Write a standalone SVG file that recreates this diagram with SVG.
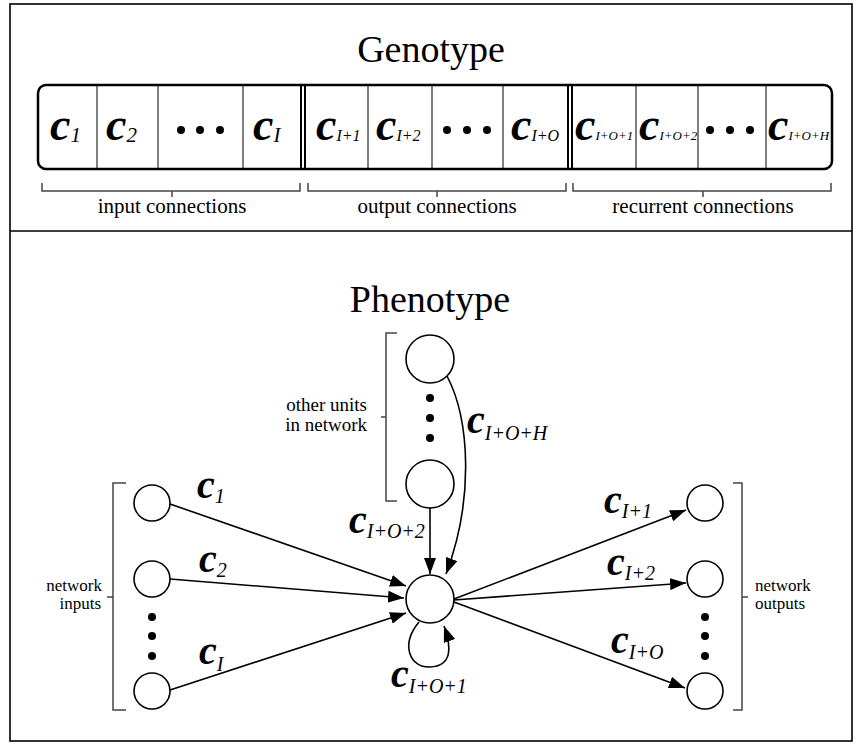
<svg xmlns="http://www.w3.org/2000/svg" width="862" height="744" viewBox="0 0 862 744">
<style>
text{font-family:"Liberation Serif","Times New Roman","DejaVu Serif",serif;fill:#000}
.title{font-size:38px;text-anchor:middle}
.lbl{font-size:21px;text-anchor:middle}
.small{font-size:19px}
.tiny{font-size:17px}
.cg{font-size:46px;font-style:italic;font-weight:bold}
.cp{font-size:40px;font-style:italic;font-weight:bold}
.s1{font-size:21px;font-style:italic}
.s2{font-size:16px;font-style:italic}
.s3{font-size:13px;font-style:italic}
.sp{font-size:20px;font-style:italic}
.node{fill:#fff;stroke:#000;stroke-width:1.6}
.br{fill:none;stroke:#444;stroke-width:1.5}
.cell{stroke:#000;stroke-width:1}
.dbl{stroke:#000;stroke-width:2}
.edge{fill:none;stroke:#000;stroke-width:1.6;marker-end:url(#ah)}
</style>
<defs>
<marker id="ah" viewBox="0 0 16 12" refX="16" refY="6" markerWidth="16" markerHeight="12" orient="auto" markerUnits="userSpaceOnUse"><path d="M0,0 L16,6 L0,12 z" fill="#000"/></marker>
</defs>
<rect x="0" y="0" width="862" height="744" fill="#fff"/>
<g id="frame">
<rect x="10" y="4" width="842" height="737" fill="none" stroke="#000" stroke-width="1.6"/>
<line x1="10" y1="231" x2="852" y2="231" stroke="#000" stroke-width="1.6"/>
</g>
<g id="genotype">
<text class="title" x="431" y="62">Genotype</text>
<rect x="38" y="85" width="794" height="84" rx="8" fill="none" stroke="#000" stroke-width="2.5"/>
<line class="cell" x1="97" y1="86" x2="97" y2="168"/>
<line class="cell" x1="158" y1="86" x2="158" y2="168"/>
<line class="cell" x1="243" y1="86" x2="243" y2="168"/>
<line class="dbl" x1="301" y1="86" x2="301" y2="168"/>
<line class="dbl" x1="305" y1="86" x2="305" y2="168"/>
<line class="cell" x1="368" y1="86" x2="368" y2="168"/>
<line class="cell" x1="432" y1="86" x2="432" y2="168"/>
<line class="cell" x1="503" y1="86" x2="503" y2="168"/>
<line class="dbl" x1="568" y1="86" x2="568" y2="168"/>
<line class="dbl" x1="572" y1="86" x2="572" y2="168"/>
<line class="cell" x1="636" y1="86" x2="636" y2="168"/>
<line class="cell" x1="698" y1="86" x2="698" y2="168"/>
<line class="cell" x1="766" y1="86" x2="766" y2="168"/>
<text x="50" y="140"><tspan class="cg">c</tspan><tspan class="s1" dy="2">1</tspan></text>
<text x="106" y="140"><tspan class="cg">c</tspan><tspan class="s1" dy="2">2</tspan></text>
<g fill="#000"><circle cx="181" cy="130" r="4"/><circle cx="200" cy="130" r="4"/><circle cx="220" cy="130" r="4"/></g>
<text x="253" y="140"><tspan class="cg">c</tspan><tspan class="s1" dy="2">I</tspan></text>
<text x="316" y="140"><tspan class="cg">c</tspan><tspan class="s2" dy="1">I+1</tspan></text>
<text x="376" y="140"><tspan class="cg">c</tspan><tspan class="s2" dy="1">I+2</tspan></text>
<g fill="#000"><circle cx="447" cy="130" r="4"/><circle cx="467" cy="130" r="4"/><circle cx="487" cy="130" r="4"/></g>
<text x="511" y="140"><tspan class="cg">c</tspan><tspan class="s2" dy="1">I+O</tspan></text>
<text x="575" y="140"><tspan class="cg">c</tspan><tspan class="s3" dy="0">I+O+1</tspan></text>
<text x="639" y="140"><tspan class="cg">c</tspan><tspan class="s3" dy="0">I+O+2</tspan></text>
<g fill="#000"><circle cx="710" cy="130" r="4"/><circle cx="730" cy="130" r="4"/><circle cx="750" cy="130" r="4"/></g>
<text x="768" y="140"><tspan class="cg">c</tspan><tspan class="s3" dy="0">I+O+H</tspan></text>
<path class="br" d="M42,183 V191 H300 V183 M172,191 V197"/>
<path class="br" d="M308,183 V191 H566 V183 M437,191 V197"/>
<path class="br" d="M573,183 V191 H831 V183 M703,191 V197"/>
<text class="lbl" x="172" y="213">input connections</text>
<text class="lbl" x="437" y="213">output connections</text>
<text class="lbl" x="703" y="213">recurrent connections</text>
</g>
<g id="phenotype">
<text class="title" x="430" y="312">Phenotype</text>
</g>
<g id="connectors">
<line class="edge" x1="170" y1="504" x2="406" y2="586"/>
<line class="edge" x1="170" y1="579" x2="404" y2="598"/>
<line class="edge" x1="170" y1="690" x2="406" y2="613"/>
<line class="edge" x1="454" y1="599" x2="686" y2="510"/>
<line class="edge" x1="454" y1="600" x2="686" y2="583"/>
<line class="edge" x1="454" y1="602" x2="685" y2="688"/>
<line class="edge" x1="430" y1="508" x2="430" y2="574"/>
<path class="edge" d="M447,376 C470,420 474,500 446,574"/>
<path class="edge" d="M419,622 C400,645 410,668 430,667 C452,666 452,648 444,626"/>
</g>
<g id="unit-other-top"><circle class="node" cx="430" cy="359" r="24"/></g>
<g id="unit-other-dots" fill="#000"><circle cx="430" cy="398" r="4"/><circle cx="430" cy="418" r="4"/><circle cx="430" cy="438" r="4"/></g>
<g id="unit-other-bottom"><circle class="node" cx="430" cy="484" r="24"/></g>
<g id="bracket-other">
<path class="br" d="M397,333 H386 V501 H397 M386,417 H381"/>
<text class="small" x="367" y="411" text-anchor="end">other units</text>
<text class="small" x="367" y="431" text-anchor="end">in network</text>
</g>
<g id="unit-center"><circle class="node" cx="430" cy="599" r="24"/></g>
<g id="input-1"><circle class="node" cx="152" cy="503" r="18"/></g>
<g id="input-2"><circle class="node" cx="152" cy="579" r="18"/></g>
<g id="input-dots" fill="#000"><circle cx="152" cy="617" r="4"/><circle cx="152" cy="636" r="4"/><circle cx="152" cy="656" r="4"/></g>
<g id="input-I"><circle class="node" cx="152" cy="691" r="18"/></g>
<g id="bracket-inputs">
<path class="br" d="M126,483 H113 V710 H126 M113,597 H107"/>
<text class="tiny" x="102" y="591" text-anchor="end">network</text>
<text class="tiny" x="101" y="609" text-anchor="end">inputs</text>
</g>
<g id="output-1"><circle class="node" cx="705" cy="503" r="18"/></g>
<g id="output-2"><circle class="node" cx="705" cy="579" r="18"/></g>
<g id="output-dots" fill="#000"><circle cx="705" cy="617" r="4"/><circle cx="705" cy="636" r="4"/><circle cx="705" cy="656" r="4"/></g>
<g id="output-O"><circle class="node" cx="705" cy="691" r="18"/></g>
<g id="bracket-outputs">
<path class="br" d="M733,483 H742 V710 H733 M742,597 H748"/>
<text class="tiny" x="755" y="591">network</text>
<text class="tiny" x="755" y="609">outputs</text>
</g>
<g id="labels">
<text x="197" y="498"><tspan class="cp">c</tspan><tspan class="sp" dy="5">1</tspan></text>
<text x="199" y="572"><tspan class="cp">c</tspan><tspan class="sp" dy="5">2</tspan></text>
<text x="199" y="664"><tspan class="cp">c</tspan><tspan class="sp" dy="7">I</tspan></text>
<text x="604" y="513"><tspan class="cp">c</tspan><tspan class="sp" dy="5">I+1</tspan></text>
<text x="607" y="575"><tspan class="cp">c</tspan><tspan class="sp" dy="5">I+2</tspan></text>
<text x="611" y="653"><tspan class="cp">c</tspan><tspan class="sp" dy="6">I+O</tspan></text>
<text x="349" y="533"><tspan class="cp">c</tspan><tspan class="sp" dy="5">I+O+2</tspan></text>
<text x="467" y="433"><tspan class="cp">c</tspan><tspan class="sp" dy="7">I+O+H</tspan></text>
<text x="391" y="687"><tspan class="cp">c</tspan><tspan class="sp" dy="6">I+O+1</tspan></text>
</g>
</svg>
